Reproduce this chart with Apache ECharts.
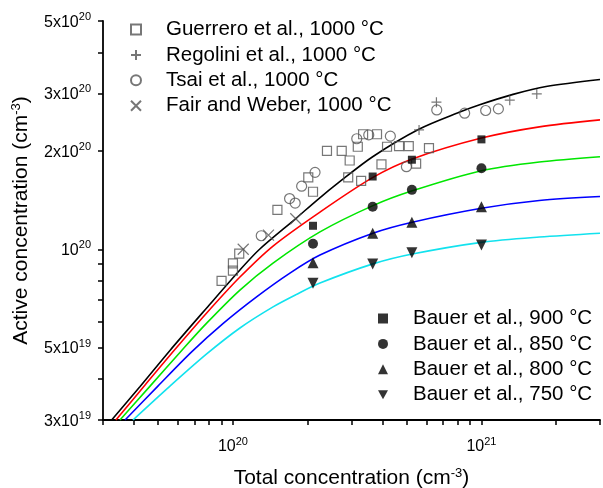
<!DOCTYPE html>
<html><head><meta charset="utf-8">
<script src="https://cdn.jsdelivr.net/npm/echarts@6/dist/echarts.min.js"></script>
<style>html,body{margin:0;padding:0;background:#fff}#c{width:603px;height:488px}</style>
</head><body><div id="c"></div>
<script>
// ---- data (total concentration, active concentration) in cm^-3 ----
const guerrero = [[9.0e19,8.0e19],[1.0e20,8.6e19],[1.0e20,9.05e19],[1.06e20,9.7e19],[1.51e20,1.32e20],
  [2.01e20,1.66e20],[2.10e20,1.50e20],[2.39e20,2.00e20],[2.74e20,2.00e20],[2.95e20,1.87e20],[3.18e20,2.06e20],
  [2.91e20,1.66e20],[3.28e20,1.62e20],[3.34e20,2.25e20],[3.80e20,2.25e20],[4.17e20,2.06e20],[4.66e20,2.07e20],
  [5.10e20,2.07e20],[3.96e20,1.82e20],[5.46e20,1.83e20],[6.15e20,2.04e20]];
const regolini = [[5.61e20,2.32e20],[6.59e20,2.82e20],[1.30e21,2.86e20],[1.67e21,2.99e20]];
const tsai = [[1.30e20,1.10e20],[1.69e20,1.43e20],[1.78e20,1.385e20],[1.89e20,1.56e20],[2.14e20,1.72e20],
  [3.15e20,2.18e20],[3.52e20,2.24e20],[4.30e20,2.22e20],[4.99e20,1.79e20],[6.61e20,2.67e20],[8.56e20,2.61e20],
  [1.04e21,2.66e20],[1.17e21,2.69e20]];
const fairWeber = [[1.10e20,1.00e20],[1.39e20,1.105e20],[1.79e20,1.24e20]];

const bauerX = [2.1e20, 3.65e20, 5.25e20, 1.0e21];
const bauer900 = [1.18e20, 1.67e20, 1.88e20, 2.17e20];
const bauer850 = [1.04e20, 1.35e20, 1.52e20, 1.77e20];
const bauer800 = [9.1e19, 1.12e20, 1.21e20, 1.35e20];
const bauer750 = [7.87e19, 9.02e19, 9.75e19, 1.03e20];

const model1000 = [[3.25e19,3.0e19],[4.23e19,3.80e19],[5.58e19,4.90e19],[7.84e19,6.61e19],[1.067e20,8.64e19],
  [1.28e20,1.0e20],[1.80e20,1.246e20],[2.17e20,1.41e20],[2.69e20,1.61e20],[3.65e20,1.92e20],[5.60e20,2.33e20],
  [8.18e20,2.63e20],[9.84e20,2.77e20],[1.34e21,2.98e20],[1.82e21,3.15e20],[3.0e21,3.31e20]];
const model900 = [[3.38e19,3.0e19],[4.43e19,3.84e19],[5.84e19,4.93e19],[7.84e19,6.38e19],[1.067e20,8.22e19],
  [1.45e20,1.023e20],[2.24e20,1.30e20],[3.66e20,1.66e20],[5.27e20,1.89e20],[1.0e21,2.19e20],[1.71e21,2.37e20],[3.0e21,2.49e20]];
const model850 = [[3.51e19,3.0e19],[4.64e19,3.81e19],[6.22e19,4.90e19],[7.84e19,5.94e19],[1.067e20,7.50e19],
  [1.45e20,9.07e19],[2.24e20,1.13e20],[3.66e20,1.36e20],[5.27e20,1.51e20],[1.0e21,1.74e20],[1.71e21,1.85e20],[3.0e21,1.92e20]];
const model800 = [[3.68e19,3.0e19],[4.99e19,3.81e19],[6.82e19,4.85e19],[9.14e19,5.93e19],[1.245e20,7.15e19],
  [1.69e20,8.44e19],[2.24e20,9.60e19],[3.66e20,1.12e20],[5.27e20,1.21e20],[1.0e21,1.335e20],[1.71e21,1.41e20],[3.0e21,1.45e20]];
const model750 = [[3.96e19,3.0e19],[5.58e19,3.81e19],[7.84e19,4.78e19],[1.067e20,5.74e19],[1.45e20,6.66e19],
  [1.80e20,7.27e19],[2.24e20,7.88e19],[3.66e20,9.02e19],[5.27e20,9.67e19],[1.0e21,1.05e20],[1.71e21,1.09e20],[3.0e21,1.12e20]];

const xRange = [3e19, 3e21];
const yRange = [3e19, 5e20];
const xTickValues = [3e19,4e19,5e19,6e19,7e19,8e19,9e19,1e20,2e20,3e20,4e20,5e20,6e20,7e20,8e20,9e20,1e21,2e21,3e21];
const xLabelValues = [1e20, 1e21];
const yTickValues = [3e19,4e19,5e19,6e19,7e19,8e19,9e19,1e20,2e20,3e20,4e20,5e20];
const yLabelValues = [3e19, 5e19, 1e20, 2e20, 3e20, 5e20];

const legendTop = ['Guerrero et al., 1000 °C','Regolini et al., 1000 °C','Tsai et al., 1000 °C','Fair and Weber, 1000 °C'];
const legendBottom = ['Bauer et al., 900 °C','Bauer et al., 850 °C','Bauer et al., 800 °C','Bauer et al., 750 °C'];

// ---- build ----
const L = Math.log10;
const toLog = arr => arr.map(p => [L(p[0]), L(p[1])]);
const zipLog = (xs, ys) => xs.map((x, i) => [L(x), L(ys[i])]);
const FONT = '"Liberation Sans", Arial, sans-serif';

function sciLabel(v) {
  const val = Math.pow(10, v);
  const e = Math.floor(v + 1e-9);
  const m = Math.round(val / Math.pow(10, e));
  return '{n|' + (m === 1 ? '10' : m + 'x10') + '}{s|' + e + '}';
}
const tickRich = {
  n: {fontSize: 16, lineHeight: 19, verticalAlign: 'bottom', fontFamily: FONT, color: '#000'},
  s: {fontSize: 11, lineHeight: 11, padding: [0, 0, 8, 0], verticalAlign: 'bottom', fontFamily: FONT, color: '#000'}
};
const nameRich = {
  s: {fontSize: 13, lineHeight: 13, padding: [0, 0, 10, 0], verticalAlign: 'bottom', fontFamily: FONT, color: '#000'}
};

const grey = '#555';
const open = {color: 'rgba(0,0,0,0)', borderColor: grey, borderWidth: 1.2};
const lineSeries = (name, data, color) => ({
  name, type: 'line', data: toLog(data), smooth: 0.3, showSymbol: false, symbol: 'none',
  lineStyle: {color, width: 1.6}, itemStyle: {color}, z: 2, silent: true
});
const legendCommon = {
  orient: 'vertical', itemWidth: 10, itemHeight: 10, itemGap: 4.4, selectedMode: false,
  textStyle: {fontSize: 20.5, lineHeight: 20, color: '#000', fontFamily: FONT, padding: [0, 0, 0, 20]}
};

const option = {
  animation: false,
  backgroundColor: '#fff',
  grid: {left: 103, right: 3, top: 21, bottom: 68, containLabel: false, outerBoundsMode: 'none'},
  xAxis: {
    type: 'value', min: L(xRange[0]), max: L(xRange[1]),
    name: 'Total concentration (cm{s|-3})', nameLocation: 'middle', nameGap: 46,
    nameTextStyle: {fontSize: 21, fontFamily: FONT, color: '#000', lineHeight: 24, rich: nameRich},
    axisLine: {lineStyle: {color: '#000', width: 1.8}},
    axisTick: {show: true, length: 5, lineStyle: {color: '#000', width: 1.5}, customValues: xTickValues.map(L)},
    axisLabel: {customValues: xLabelValues.map(L), formatter: sciLabel, rich: tickRich, margin: 16},
    splitLine: {show: false}
  },
  yAxis: {
    type: 'value', min: L(yRange[0]), max: L(yRange[1]),
    name: 'Active concentration (cm{s|-3})', nameLocation: 'middle', nameGap: 66,
    nameTextStyle: {fontSize: 21, fontFamily: FONT, color: '#000', lineHeight: 24, rich: nameRich},
    axisLine: {show: true, lineStyle: {color: '#000', width: 1.8}},
    axisTick: {show: true, length: 5, lineStyle: {color: '#000', width: 1.5}, customValues: yTickValues.map(L)},
    axisLabel: {customValues: yLabelValues.map(L), formatter: sciLabel, rich: tickRich, margin: 12},
    splitLine: {show: false}
  },
  legend: [
    Object.assign({data: legendTop, left: 125, top: 14}, legendCommon),
    Object.assign({data: legendBottom, left: 373, top: 303}, legendCommon)
  ],
  series: [
    lineSeries('model 1000', model1000, '#000000'),
    lineSeries('model 900', model900, '#ff0000'),
    lineSeries('model 850', model850, '#00e600'),
    lineSeries('model 800', model800, '#0000ff'),
    lineSeries('model 750', model750, '#12e2ee'),
    {name: legendTop[0], type: 'scatter', data: toLog(guerrero), symbol: 'rect', symbolSize: 9, itemStyle: open, z: 3},
    {name: legendTop[1], type: 'scatter', data: toLog(regolini), symbol: 'path://M5,0L5,10M0,5L10,5', symbolSize: 10, itemStyle: open, z: 3},
    {name: legendTop[2], type: 'scatter', data: toLog(tsai), symbol: 'circle', symbolSize: 10, itemStyle: open, z: 3},
    {name: legendTop[3], type: 'scatter', data: toLog(fairWeber), symbol: 'path://M0,0L10,10M10,0L0,10', symbolSize: 11, itemStyle: open, z: 3},
    {name: legendBottom[0], type: 'scatter', data: zipLog(bauerX, bauer900), symbol: 'rect', symbolSize: 8, itemStyle: {color: '#000'}, z: 4},
    {name: legendBottom[1], type: 'scatter', data: zipLog(bauerX, bauer850), symbol: 'circle', symbolSize: 10, itemStyle: {color: '#000'}, z: 4},
    {name: legendBottom[2], type: 'scatter', data: zipLog(bauerX, bauer800), symbol: 'triangle', symbolSize: 11, itemStyle: {color: '#000'}, z: 4},
    {name: legendBottom[3], type: 'scatter', data: zipLog(bauerX, bauer750), symbol: 'path://M0,0L10,0L5,9Z', symbolSize: 11, itemStyle: {color: '#000'}, z: 4}
  ]
};
const chart = echarts.init(document.getElementById('c'), null, {renderer: 'canvas'});
chart.setOption(option);
</script>
</body></html>
